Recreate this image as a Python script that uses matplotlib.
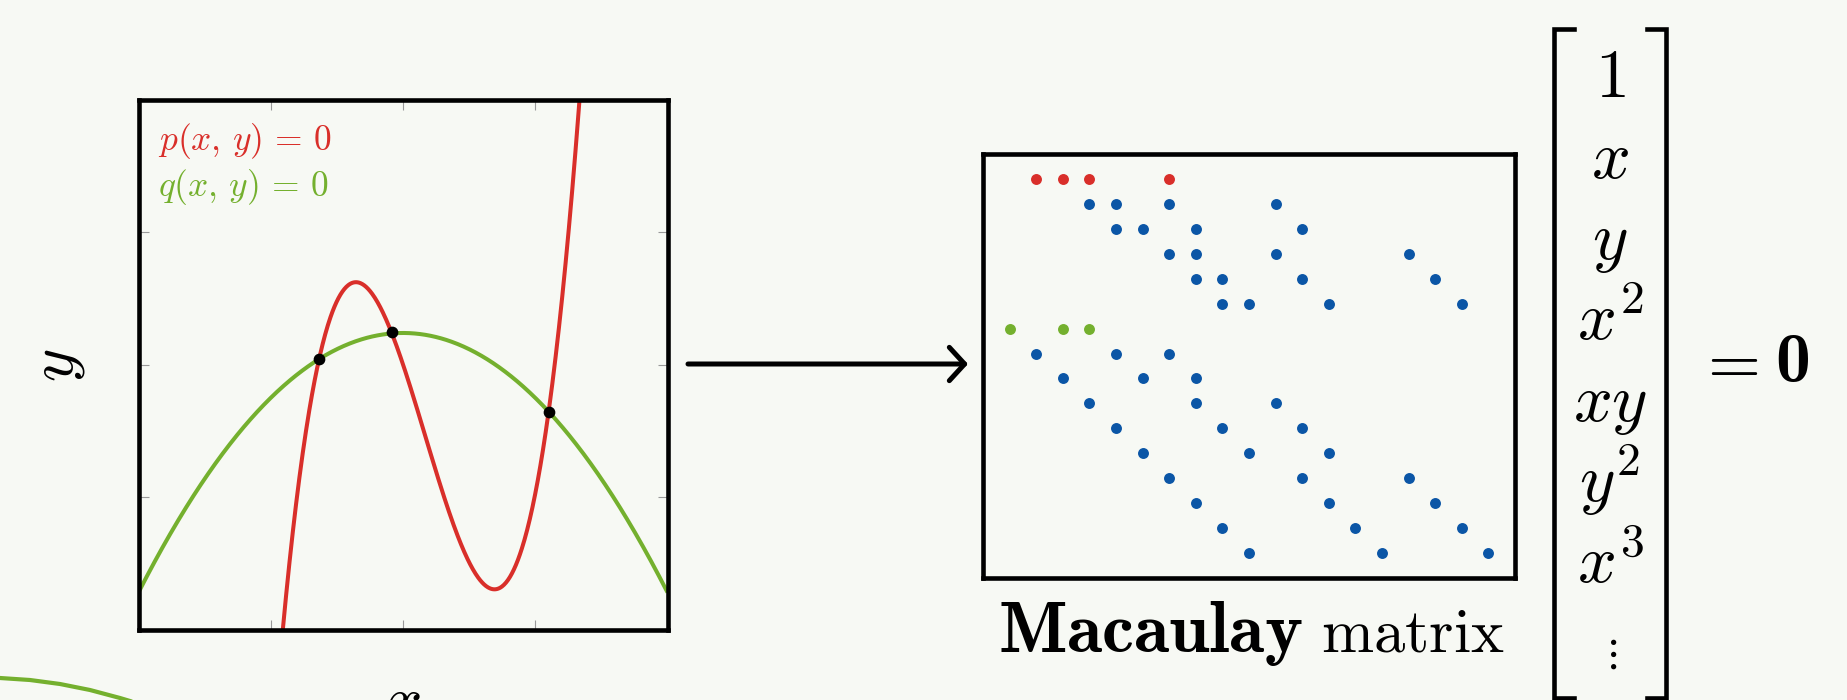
import numpy as np
import matplotlib.pyplot as plt

plt.rcParams['mathtext.fontset'] = 'cm'

# colours
BG    = '#f7f9f4'
RED   = '#d92f2a'
GREEN = '#74b02e'
BLUE  = '#0b56a6'

# ——— LEFT PANEL: the two curves ———
# p(x,y)=0 drawn as y = cubic(x), q(x,y)=0 as y = parabola(x)  (unit box coords)
P_COEFFS = [64.633, -105.09, 53.634, -8.123]
Q_COEFFS = [-1.96, 1.96, 0.07]
ROOTS_X  = [0.341, 0.479, 0.776]
ROOTS_Y  = [0.510, 0.561, 0.411]
P_LABEL  = r'$p(x,\,y)\,=\,0$'
Q_LABEL  = r'$q(x,\,y)\,=\,0$'

# ——— MACAULAY MATRIX: nonzero pattern (row, columns) ———
RED_ROW    = 0
RED_COLS   = [1, 2, 3, 6]
GREEN_ROW  = 6
GREEN_COLS = [0, 2, 3]
BLUE_ROWS  = [1, 2, 3, 4, 5, 7, 8, 9, 10, 11, 12, 13, 14, 15]
BLUE_COLS  = [
    [3, 4, 6, 10],
    [4, 5, 7, 11],
    [6, 7, 10, 15],
    [7, 8, 11, 16],
    [8, 9, 12, 17],
    [1, 4, 6],
    [2, 5, 7],
    [3, 7, 10],
    [4, 8, 11],
    [5, 9, 12],
    [6, 11, 15],
    [7, 12, 16],
    [8, 13, 17],
    [9, 14, 18],
]
N_COLS = 19
N_ROWS = 16

# monomial vector
MONOMIALS = ['1', 'x', 'y', 'x^2', 'xy', 'y^2', 'x^3']

# decorative green arc at bottom-left (figure pixels)
ARC_X = [0, 30, 60, 90, 120, 140]
ARC_Y = [678, 680, 684, 690, 698, 704]

W, H = 1847, 700
fig = plt.figure(figsize=(W / 100, H / 100), dpi=100, facecolor=BG)

# overlay axes in pixel coordinates (y down)
ax0 = fig.add_axes([0, 0, 1, 1])
ax0.set_xlim(0, W)
ax0.set_ylim(H, 0)
ax0.axis('off')
ax0.patch.set_alpha(0)


def px_axes(l, t, r, b):
    return fig.add_axes([l / W, 1 - b / H, (r - l) / W, (b - t) / H])


# 1) curve plot
ax1 = px_axes(138.5, 100, 667.5, 629.5)
ax1.set_facecolor(BG)
xs = np.linspace(0, 1, 800)
ax1.plot(xs, np.polyval(Q_COEFFS, xs), color=GREEN, lw=2.9, solid_capstyle='butt')
ax1.plot(xs, np.polyval(P_COEFFS, xs), color=RED, lw=2.9, solid_capstyle='butt')
ax1.scatter(ROOTS_X, ROOTS_Y, s=55, color='black', zorder=5)
ax1.set_xlim(0, 1)
ax1.set_ylim(0, 1)
ax1.set_xticks([0.25, 0.5, 0.75])
ax1.set_yticks([0.25, 0.5, 0.75])
ax1.tick_params(direction='in', length=7, width=0.8, color='#999999',
                top=True, right=True, labelbottom=False, labelleft=False)
for s in ax1.spines.values():
    s.set_linewidth(3.3)
ax1.text(0.037, 0.905, P_LABEL, transform=ax1.transAxes, color=RED,
         fontsize=25.5, va='baseline')
ax1.text(0.037, 0.818, Q_LABEL, transform=ax1.transAxes, color=GREEN,
         fontsize=25.5, va='baseline')

# axis labels
ax0.text(56, 365, r'$y$', fontsize=46, rotation=90, ha='center', va='center')
ax0.text(403, 720, r'$x$', fontsize=46, ha='center', va='baseline')

# 2) arrow
ax0.annotate('', xy=(968, 364), xytext=(688, 364),
             arrowprops=dict(arrowstyle='->,head_length=0.55,head_width=0.6',
                             lw=3.6, color='black', shrinkA=0, shrinkB=0,
                             mutation_scale=20))

# 3) Macaulay matrix pattern
ax2 = px_axes(983, 154, 1515, 578)
ax2.set_facecolor(BG)
ax2.scatter(RED_COLS, [RED_ROW] * len(RED_COLS), s=62, color=RED, lw=0)
ax2.scatter(GREEN_COLS, [GREEN_ROW] * len(GREEN_COLS), s=62, color=GREEN, lw=0)
for r, cols in zip(BLUE_ROWS, BLUE_COLS):
    ax2.scatter(cols, [r] * len(cols), s=62, color=BLUE, lw=0)
ax2.set_xlim(-1, N_COLS)
ax2.set_ylim(N_ROWS, -1)
ax2.set_xticks([])
ax2.set_yticks([])
for s in ax2.spines.values():
    s.set_linewidth(3.3)

ax0.text(998, 652, r'$\mathbf{Macaulay}$', fontsize=52, ha='left', va='baseline')
ax0.text(1505, 652, r'$\mathrm{matrix}$', fontsize=45, ha='right', va='baseline')

# 4) monomial vector with brackets
ax0.plot([1574, 1554, 1554, 1574], [29, 29, 698, 698], color='black', lw=3.3,
         solid_joinstyle='miter')
ax0.plot([1647, 1666, 1666, 1647], [29, 29, 698, 698], color='black', lw=3.3,
         solid_joinstyle='miter')
for i, m in enumerate(MONOMIALS):
    ax0.text(1610, 97 + 81 * i, '$' + m + '$', fontsize=49,
             ha='center', va='baseline')
ax0.text(1610, 665, r'$\vdots$', fontsize=30, ha='center', va='baseline')

ax0.text(1696, 382, r'$=$', fontsize=49, ha='left', va='baseline')
ax0.text(1775, 382, '0', fontsize=50, family='cmb10', ha='left', va='baseline')

# decorative arc
ax0.plot(ARC_X, ARC_Y, color=GREEN, lw=3, clip_on=False)

fig.savefig('out.png', dpi=100, facecolor=BG)
